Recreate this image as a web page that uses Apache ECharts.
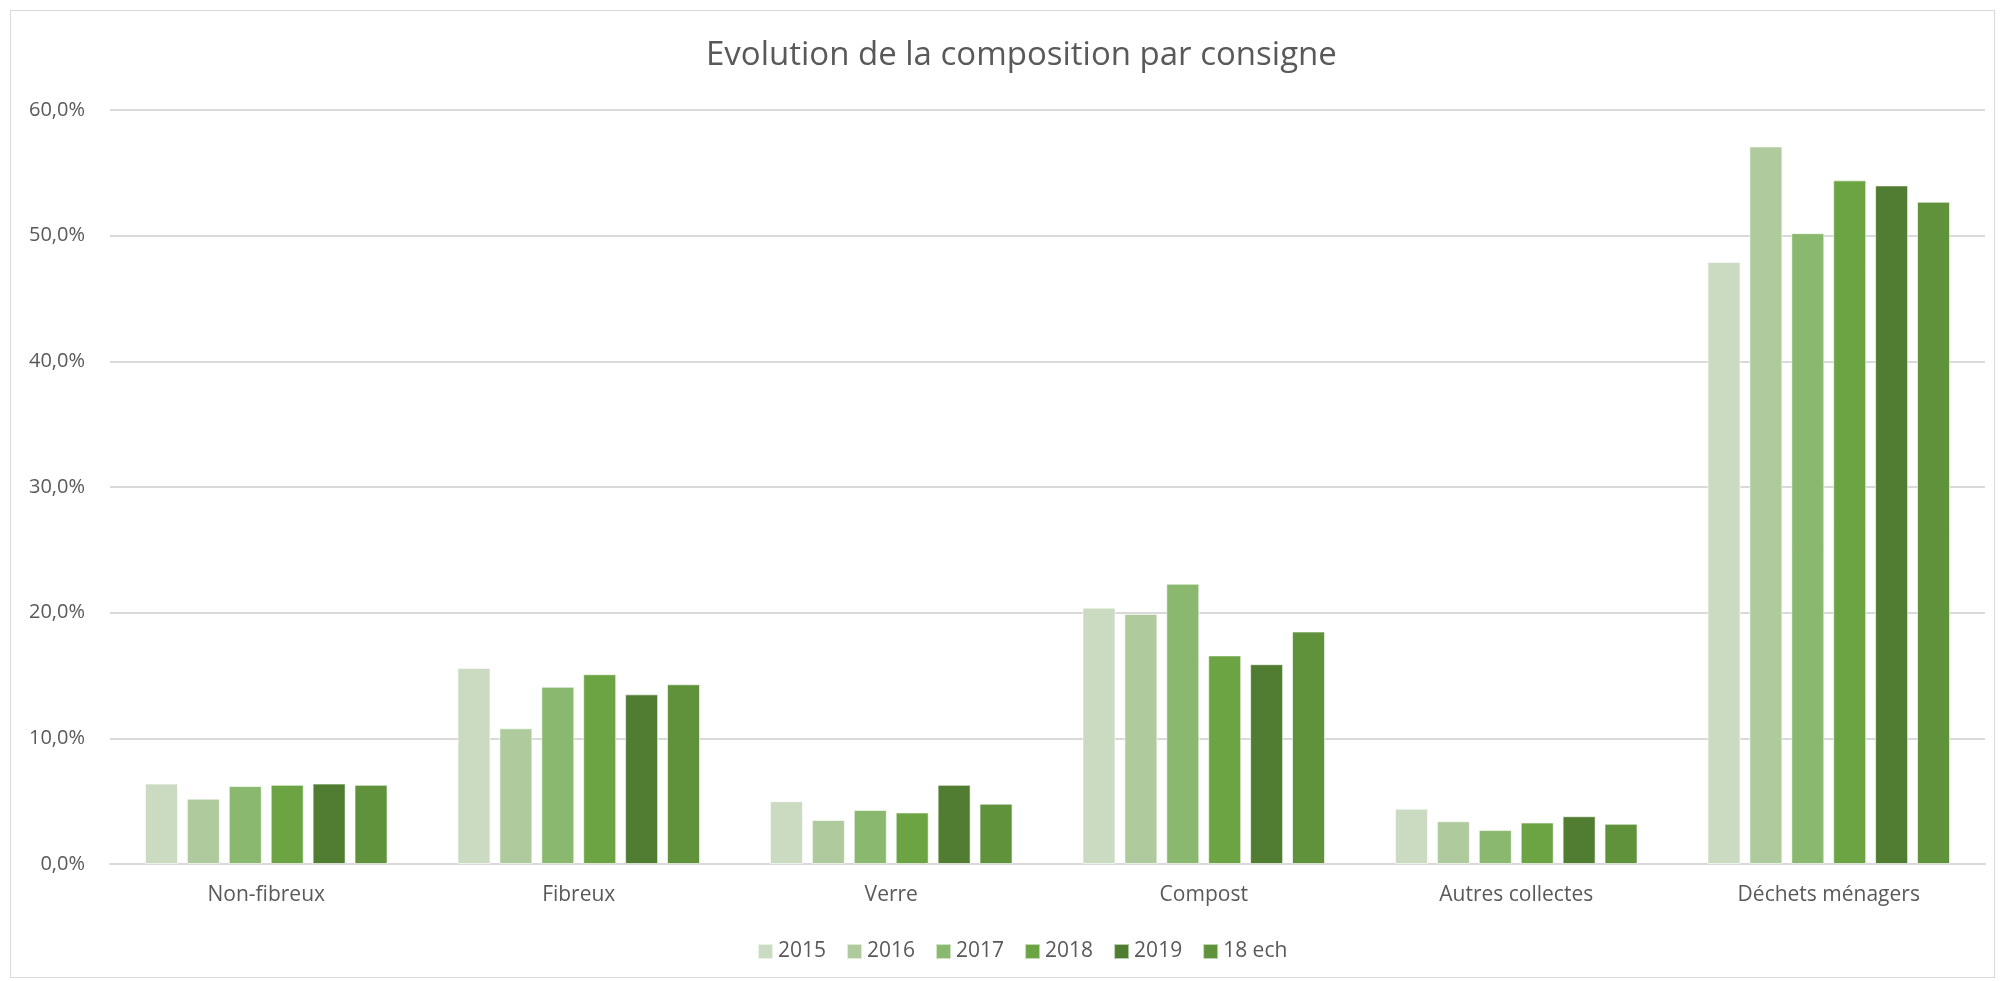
<!DOCTYPE html>
<html>
<head>
<meta charset="utf-8">
<script src="https://cdn.jsdelivr.net/npm/echarts@6/dist/echarts.min.js"></script>
<style>
	html, body{
		margin: 0;
		padding: 0;
		background: #ffffff;
	}
	#main{
		width: 2001px;
		height: 981px;
	}
	.frame{
		position: absolute;
		left: 10px;
		top: 10px;
		width: 1983px;
		height: 966px;
		border: 1px solid #d9d9d9;
		pointer-events: none;
	}
</style>
</head>
<body>
<div id="main"></div>
<div class="frame"></div>
<script>
	// categories (consignes)
	var categories = ['Non-fibreux', 'Fibreux', 'Verre', 'Compost', 'Autres collectes', 'Déchets ménagers']
	var seriesNames = ['2015', '2016', '2017', '2018', '2019', '18 ech']
	// valeurs en %
	var v2015 = [6.4, 15.6, 5.0, 20.4, 4.4, 47.9]
	var v2016 = [5.2, 10.8, 3.5, 19.9, 3.4, 57.1]
	var v2017 = [6.2, 14.1, 4.3, 22.3, 2.7, 50.2]
	var v2018 = [6.3, 15.1, 4.1, 16.6, 3.3, 54.4]
	var v2019 = [6.4, 13.5, 6.3, 15.9, 3.8, 54.0]
	var v18ech = [6.3, 14.3, 4.8, 18.5, 3.2, 52.7]
	var yTicks = [0, 10, 20, 30, 40, 50, 60]

	var colors = ['#cadbc1', '#afcb9d', '#8ab86f', '#6ca443', '#507d32', '#60923b']
	var allValues = [v2015, v2016, v2017, v2018, v2019, v18ech]
	var font = '"Open Sans", "Noto Sans", sans-serif'

	var myChart = echarts.init(document.getElementById('main'))

	var series = seriesNames.map(function(name, i){
		return {
			name: name,
			type: 'bar',
			data: allValues[i],
			barWidth: 33,
			barGap: '27%',
			itemStyle: {
				color: colors[i],
				borderColor: 'rgba(255,255,255,0.6)',
				borderWidth: 1
			}
		}
	})

	var option = {
		backgroundColor: '#ffffff',
		animation: false,
		color: colors,
		title: {
			text: 'Evolution de la composition par consigne',
			left: 701,
			top: 34,
			textStyle: {
				color: '#595959',
				fontSize: 33,
				fontWeight: 'normal',
				fontFamily: font
			}
		},
		legend: {
			data: seriesNames,
			bottom: 14,
			left: 752,
			itemWidth: 15,
			itemHeight: 15,
			itemGap: 20,
			icon: 'rect',
			textStyle: {
				color: '#595959',
				fontSize: 21,
				fontFamily: font
			}
		},
		grid: {
			left: 110,
			right: 16,
			top: 110,
			bottom: 117,
			containLabel: false
		},
		xAxis: {
			type: 'category',
			data: categories,
			axisLine: {
				lineStyle: { color: '#d9d9d9', width: 2 }
			},
			axisTick: { show: false },
			axisLabel: {
				color: '#595959',
				fontSize: 21,
				fontFamily: font,
				margin: 21
			}
		},
		yAxis: {
			type: 'value',
			min: yTicks[0],
			max: yTicks[yTicks.length - 1],
			interval: 10,
			axisLine: { show: false },
			axisTick: { show: false },
			splitLine: {
				lineStyle: { color: '#d9d9d9', width: 2 }
			},
			axisLabel: {
				color: '#595959',
				fontSize: 20,
				fontFamily: font,
				margin: 25,
				formatter: function(val){
					return val.toFixed(1).replace('.', ',') + '%'
				}
			}
		},
		series: series
	}

	myChart.setOption(option)
</script>
</body>
</html>
